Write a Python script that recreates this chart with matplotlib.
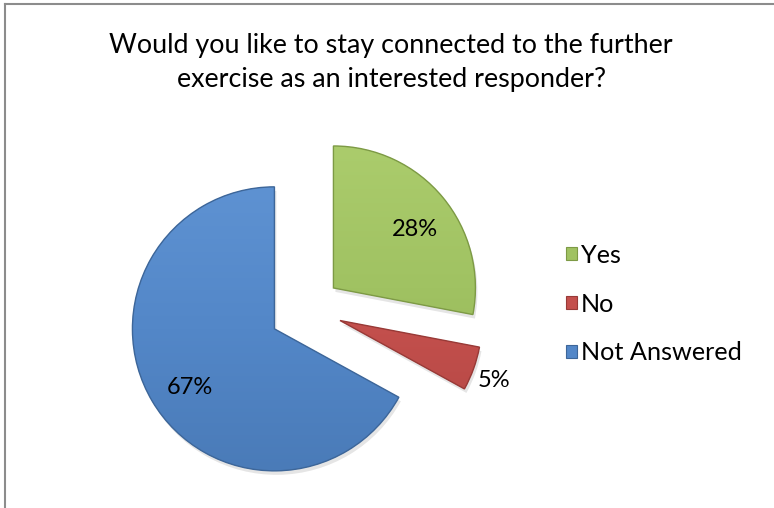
import numpy as np
import matplotlib
matplotlib.use("Agg")
import matplotlib.pyplot as plt
from matplotlib.colors import LinearSegmentedColormap
from matplotlib.lines import Line2D
import matplotlib.patches as mpatches

# ── Data ──────────────────────────────────────────────────────────────────────
labels = ["Yes", "No", "Not Answered"]
values = [28, 5, 67]
title = "Would you like to stay connected to the further\nexercise as an interested responder?"

# ── Styles ────────────────────────────────────────────────────────────────────
base_colors = ["#a0c262", "#c4504d", "#5387c8"]
light_colors = ["#abcc6c", "#cf5d5a", "#5e92d2"]
dark_colors = ["#93b455", "#b04542", "#4a7bb8"]
edge_colors = ["#7d9a45", "#983a37", "#3d6699"]
explode = [33, 34, 39]

plt.rcParams["font.family"] = ["Lato", "DejaVu Sans"]

W, H = 774, 508
fig = plt.figure(figsize=(W / 100, H / 100), dpi=100)
ax = fig.add_axes([0, 0, 1, 1])

center = (308, H - 309)
radius = 142

wedges, texts, autotexts = ax.pie(
    values, explode=explode, center=center, radius=radius,
    startangle=90, counterclock=False,
    colors=base_colors, autopct="%.0f%%", pctdistance=0.72,
    wedgeprops=dict(edgecolor="none", linewidth=0),
    textprops=dict(fontsize=17, color="black"),
    frame=True,
)

# soft shadow + gradient shading + darker rim, roughly like the Excel bevel
for i, w in enumerate(wedges):
    sh = mpatches.Wedge((w.center[0] + 2, w.center[1] - 4), w.r, w.theta1, w.theta2,
                        facecolor="#000000", alpha=0.10, edgecolor="none", zorder=0.5)
    ax.add_patch(sh)
    cx, cy = w.center
    cmap = LinearSegmentedColormap.from_list("g", [light_colors[i], base_colors[i], dark_colors[i]])
    grad = np.linspace(0, 1, 256).reshape(-1, 1)
    im = ax.imshow(grad, extent=[cx - w.r, cx + w.r, cy - w.r, cy + w.r],
                   cmap=cmap, origin="upper", aspect="auto", zorder=w.zorder + 0.1,
                   interpolation="bilinear")
    im.set_clip_path(w)
    rim = mpatches.Wedge(w.center, w.r, w.theta1, w.theta2, facecolor="none",
                         edgecolor=edge_colors[i], linewidth=1.0, zorder=w.zorder + 0.2)
    ax.add_patch(rim)

for t in autotexts:
    t.set_zorder(5)
    x, y = t.get_position()
    t.set_position((x + 3, y - 7))

# the small slice gets its label outside
w = wedges[1]
thetam = np.deg2rad(0.5 * (w.theta1 + w.theta2))
autotexts[1].set_position((w.center[0] + 1.15 * w.r * np.cos(thetam),
                           w.center[1] + 1.15 * w.r * np.sin(thetam) - 5))

ax.set_xlim(0, W)
ax.set_ylim(0, H)
ax.set_aspect("equal")
ax.axis("off")

fig.text(391 / W, 1 - 62 / H, title, ha="center", va="center",
         fontsize=19.4, linespacing=1.45)

handles = [mpatches.Patch(facecolor=base_colors[i], edgecolor=edge_colors[i], linewidth=0.8)
           for i in range(len(labels))]
fig.legend(handles, labels, loc="center left", bbox_to_anchor=(566 / W, 1 - 304 / H),
           frameon=False, fontsize=18.2, handlelength=0.43, handleheight=0.43,
           handletextpad=0.15, labelspacing=1.02, borderpad=0, borderaxespad=0)

# chart frame (left and top edges visible)
fig.add_artist(Line2D([4.5 / W, 4.5 / W], [0, 1 - 3.5 / H], color="#8c8c8c", lw=1.5,
                      transform=fig.transFigure))
fig.add_artist(Line2D([4.5 / W, 1], [1 - 3.5 / H, 1 - 3.5 / H], color="#8c8c8c", lw=1.5,
                      transform=fig.transFigure))

fig.savefig("out.png", dpi=100)
